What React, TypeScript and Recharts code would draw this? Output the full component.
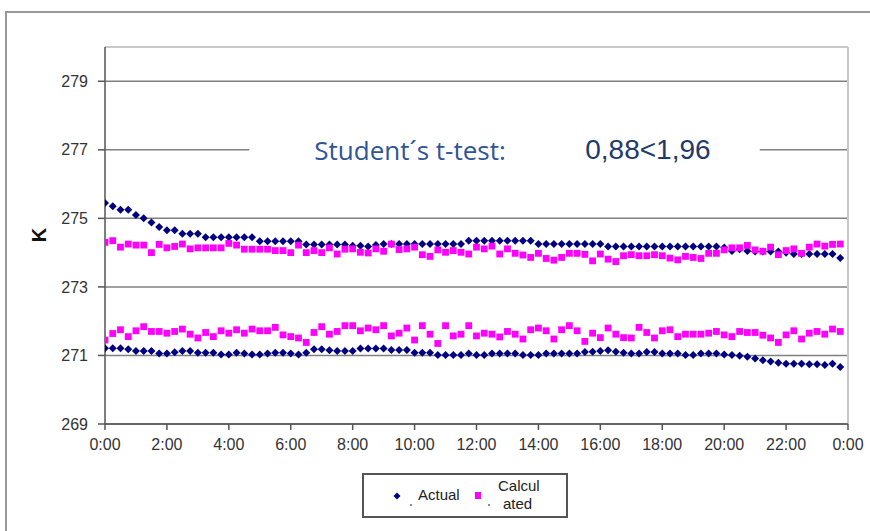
import {
  ScatterChart,
  Scatter,
  XAxis,
  YAxis,
  CartesianGrid,
  ReferenceArea,
  ReferenceLine,
} from "recharts";

// readings every 15 minutes, 0:00 to 23:45 (K)
const STEP_HOURS = 0.25;

const actualUpper = [
  275.45, 275.35, 275.25, 275.25, 275.1, 275.0, 274.88, 274.75, 274.65, 274.65, 274.55, 274.55,
  274.55, 274.45, 274.45, 274.45, 274.45, 274.45, 274.45, 274.45, 274.33, 274.33, 274.33, 274.33,
  274.33, 274.33, 274.24, 274.24, 274.24, 274.24, 274.24, 274.24, 274.2, 274.2, 274.18, 274.22,
  274.25, 274.25, 274.25, 274.25, 274.25, 274.25, 274.25, 274.25, 274.25, 274.25, 274.25, 274.35,
  274.35, 274.35, 274.35, 274.35, 274.35, 274.35, 274.35, 274.35, 274.25, 274.25, 274.25, 274.25,
  274.25, 274.25, 274.25, 274.25, 274.25, 274.18, 274.18, 274.18, 274.18, 274.18, 274.18, 274.18,
  274.18, 274.18, 274.18, 274.18, 274.18, 274.18, 274.18, 274.18, 274.15, 274.05, 274.1, 274.05,
  274.03, 274.03, 274.03, 274.03, 274.0, 273.96, 273.96, 273.96, 273.96, 273.96, 273.96, 273.84,
];

const calcUpper = [
  274.3, 274.35, 274.16, 274.25, 274.22, 274.22, 274.0, 274.24, 274.14, 274.18, 274.25, 274.11,
  274.14, 274.14, 274.14, 274.14, 274.27, 274.22, 274.1, 274.1, 274.1, 274.1, 274.06, 274.06,
  274.0, 274.22, 274.0, 274.06, 274.0, 274.14, 273.96, 274.1, 274.11, 274.01, 273.99, 274.11,
  274.04, 274.25, 274.09, 274.11, 274.16, 273.94, 273.89, 274.08, 274.01, 274.06, 274.01, 273.96,
  274.16, 274.11, 274.19, 273.96, 274.11, 273.98, 273.93, 273.86, 273.98, 273.83, 273.78, 273.86,
  273.98, 273.98, 273.95, 273.76, 273.96, 273.81, 273.74, 273.91, 273.94, 273.91, 273.91, 273.94,
  273.91, 273.84, 273.79, 273.89, 273.86, 273.83, 273.98, 273.98, 274.08, 274.14, 274.14, 274.21,
  274.08, 274.04, 274.16, 273.94, 274.06, 274.11, 273.98, 274.16, 274.25, 274.19, 274.24, 274.25,
];

const actualLower = [
  271.21, 271.21, 271.21, 271.18, 271.13, 271.13, 271.13, 271.06, 271.06, 271.09, 271.13, 271.13,
  271.08, 271.08, 271.08, 271.03, 271.03, 271.08, 271.06, 271.03, 271.03, 271.06, 271.08, 271.08,
  271.06, 271.03, 271.08, 271.18, 271.18, 271.15, 271.13, 271.13, 271.13, 271.2, 271.2, 271.2,
  271.2, 271.16, 271.16, 271.16, 271.08, 271.08, 271.08, 271.01, 271.01, 271.01, 271.01, 271.06,
  271.01, 271.01, 271.06, 271.06, 271.06, 271.06, 271.01, 271.01, 271.01, 271.06, 271.06, 271.06,
  271.06, 271.06, 271.1, 271.11, 271.13, 271.15, 271.11, 271.08, 271.06, 271.06, 271.1, 271.1,
  271.06, 271.06, 271.06, 271.01, 271.01, 271.06, 271.06, 271.06, 271.03, 271.01, 270.99, 270.96,
  270.91, 270.86, 270.82, 270.79, 270.76, 270.76, 270.76, 270.74, 270.74, 270.72, 270.76, 270.66,
];

const calcLower = [
  271.45, 271.64, 271.75, 271.55, 271.72, 271.84, 271.7, 271.7, 271.65, 271.7, 271.77, 271.62,
  271.51, 271.67, 271.55, 271.72, 271.65, 271.75, 271.65, 271.77, 271.72, 271.72, 271.82, 271.6,
  271.55, 271.51, 271.38, 271.67, 271.84, 271.62, 271.7, 271.87, 271.87, 271.72, 271.8, 271.75,
  271.87, 271.57, 271.65, 271.8, 271.45, 271.87, 271.62, 271.35, 271.87, 271.57, 271.62, 271.87,
  271.57, 271.65, 271.62, 271.54, 271.7, 271.62, 271.48, 271.75, 271.8, 271.72, 271.48, 271.75,
  271.87, 271.72, 271.41, 271.65, 271.52, 271.8, 271.62, 271.52, 271.51, 271.82, 271.67, 271.51,
  271.72, 271.75, 271.55, 271.62, 271.62, 271.62, 271.65, 271.7, 271.6, 271.55, 271.7, 271.67,
  271.67, 271.59, 271.51, 271.38, 271.6, 271.72, 271.48, 271.65, 271.7, 271.62, 271.77, 271.7,
];

const xTicks = [0, 2, 4, 6, 8, 10, 12, 14, 16, 18, 20, 22, 24];
const yTicks = [269, 271, 273, 275, 277, 279];

const ACTUAL = "#000080";
const CALC = "#ff00ff";
const ARIAL = "'Liberation Sans', Arial, sans-serif";

const toPoints = (vals: number[]) => vals.map((v, i) => ({ t: i * STEP_HOURS, v }));

const Diamond = (props: any) => {
  const { cx, cy } = props;
  const r = 4;
  return (
    <polygon
      points={`${cx},${cy - r} ${cx + r},${cy} ${cx},${cy + r} ${cx - r},${cy}`}
      fill={ACTUAL}
    />
  );
};

const Square = (props: any) => {
  const { cx, cy } = props;
  const s = 3.4;
  return <rect x={cx - s} y={cy - s} width={2 * s} height={2 * s} fill={CALC} />;
};

const TTestLabel = (props: any) => {
  const { viewBox } = props;
  const cy = viewBox.y + viewBox.height / 2;
  return (
    <g>
      <text
        x={viewBox.x + 65}
        y={cy}
        dominantBaseline="central"
        fill="#2f5597"
        fontSize={26}
        fontFamily="'Open Sans', sans-serif"
      >
        Student´s t-test:
      </text>
      <text
        x={viewBox.x + 336}
        y={cy}
        dominantBaseline="central"
        fill="#1f3a6b"
        fontSize={28}
        fontFamily={ARIAL}
      >
        0,88&lt;1,96
      </text>
    </g>
  );
};

const tickStyle = { fill: "#333", fontSize: 16, fontFamily: ARIAL };

export default function App() {
  return (
    <div style={{ position: "absolute", left: 0, top: 0, width: 870, height: 531, background: "#fff", overflow: "hidden" }}>
      <div
        style={{
          position: "absolute",
          left: 5,
          top: 11,
          width: 880,
          height: 540,
          borderTop: "2px solid #999",
          borderLeft: "2px solid #999",
        }}
      />
      <div style={{ position: "absolute", left: 0, top: 0 }}>
        <ScatterChart width={870} height={531} margin={{ top: 47, right: 22, bottom: 77, left: 45 }}>
          <CartesianGrid vertical={false} stroke="#808080" strokeWidth={1.5} />
          <ReferenceArea
            x1={4.66}
            x2={21.15}
            y1={276.6}
            y2={277.4}
            fill="#fff"
            fillOpacity={1}
            stroke="none"
            label={TTestLabel}
          />
          <ReferenceLine y={280} stroke="#c8c8c8" strokeWidth={2} />
          <ReferenceLine x={24} stroke="#c8c8c8" strokeWidth={2} />
          <XAxis
            type="number"
            dataKey="t"
            domain={[0, 24]}
            ticks={xTicks}
            tickFormatter={(h: number) => `${h % 24}:00`}
            tick={tickStyle}
            tickSize={6}
            tickMargin={9}
            height={30}
            stroke="#555"
            strokeWidth={1.5}
            allowDataOverflow
          />
          <YAxis
            type="number"
            dataKey="v"
            domain={[269, 280]}
            ticks={yTicks}
            tick={tickStyle}
            tickSize={7}
            tickMargin={10}
            width={60}
            stroke="#555"
            strokeWidth={1.5}
            allowDataOverflow
            label={{
              content: () => (
                <text
                  x={39}
                  y={235}
                  transform="rotate(-90 39 235)"
                  textAnchor="middle"
                  dominantBaseline="central"
                  fontSize={20}
                  fontWeight="bold"
                  fontFamily={ARIAL}
                  fill="#111"
                >
                  K
                </text>
              ),
            }}
          />
          <Scatter data={toPoints(actualUpper)} shape={Diamond} isAnimationActive={false} />
          <Scatter data={toPoints(actualLower)} shape={Diamond} isAnimationActive={false} />
          <Scatter data={toPoints(calcUpper)} shape={Square} isAnimationActive={false} />
          <Scatter data={toPoints(calcLower)} shape={Square} isAnimationActive={false} />
        </ScatterChart>
      </div>
      <div
        style={{
          position: "absolute",
          left: 362,
          top: 473,
          width: 202,
          height: 41,
          border: "2px solid #555",
          background: "#fff",
          fontFamily: ARIAL,
          fontSize: 15,
          color: "#222",
        }}
      >
        <svg width={202} height={41} style={{ position: "absolute", left: 0, top: 0 }}>
          <polygon points="33,17.5 36.5,21 33,24.5 29.5,21" fill={ACTUAL} />
          <circle cx={47} cy={30} r={1} fill="#666" />
          <rect x={111} y={17} width={6} height={7} fill={CALC} />
          <circle cx={125} cy={30} r={1} fill="#666" />
        </svg>
        <div style={{ position: "absolute", left: 54, top: 11, lineHeight: "18px" }}>Actual</div>
        <div style={{ position: "absolute", left: 134, top: 2, lineHeight: "18px" }}>
          Calcul
          <br />
          <span style={{ marginLeft: 5 }}>ated</span>
        </div>
      </div>
    </div>
  );
}
